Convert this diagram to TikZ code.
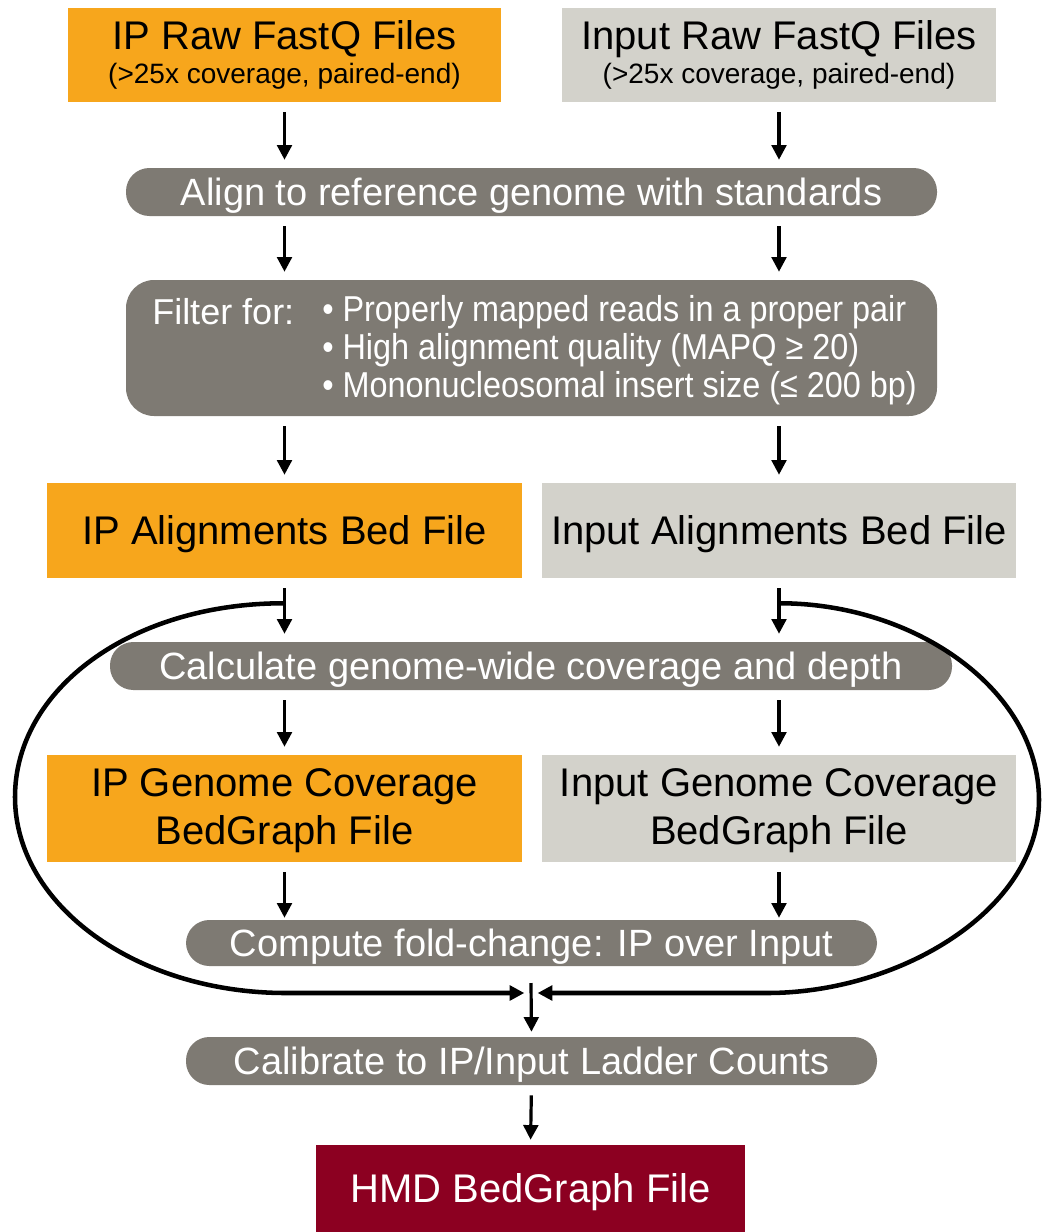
\documentclass[tikz,border=0pt]{standalone}
\usepackage{fontspec}
\setmainfont{Liberation Sans}
\newfontfamily\narrowsans{Liberation Sans}[FakeStretch=0.9]
\usetikzlibrary{arrows.meta,calc}

\definecolor{iporange}{HTML}{F7A61C}
\definecolor{inputgray}{HTML}{D3D2CB}
\definecolor{stepgray}{HTML}{7E7A73}
\definecolor{hmdred}{HTML}{8C0021}

\begin{document}
\begin{tikzpicture}[x=0.75pt,y=-0.75pt,
  filebox/.style={rectangle, inner sep=0pt, text=black, align=center,
    font=\fontsize{30}{36}\selectfont},
  ipfile/.style={filebox, fill=iporange},
  inputfile/.style={filebox, fill=inputgray},
  onecapbig/.style={text height=21.5pt, text depth=0pt},
  stepbar/.style={rectangle, rounded corners=17.5pt, fill=stepgray, text=white,
    inner sep=0pt, font=\fontsize{28.5}{34}\selectfont,
    text height=20.4pt, text depth=0pt},
  whitetext/.style={text=white, inner sep=0pt},
  arr/.style={line width=2.4pt, -{Triangle[length=11pt,width=11pt]},
    shorten <=7.5pt, shorten >=6pt},
  loopline/.style={line width=3.4pt, -{Triangle[length=11pt,width=11pt]}, shorten >=5pt}
]
\useasboundingbox (0,0) rectangle (1042,1232);

% raw reads
\node[ipfile, minimum width=433*0.75pt, minimum height=94*0.75pt,
  font=\fontsize{21}{25.5}\selectfont] (iprawfq) at (284.5,55)
  {{\fontsize{30}{30}\selectfont IP Raw FastQ Files}\\\rule{0pt}{16pt}(>25x coverage, paired-end)};
\node[inputfile, minimum width=434*0.75pt, minimum height=94*0.75pt,
  font=\fontsize{21}{25.5}\selectfont] (inputrawfq) at (779,55)
  {{\fontsize{30}{30}\selectfont Input Raw FastQ Files}\\\rule{0pt}{16pt}(>25x coverage, paired-end)};

% alignment
\node[stepbar, minimum width=811*0.75pt, minimum height=48*0.75pt] (align) at (531.5,192)
  {Align to reference genome with standards};

% filtering
\node[stepbar, rounded corners=21pt, minimum width=811*0.75pt, minimum height=136*0.75pt,
  text height=0pt] (filter) at (531.5,348) {};
\node[whitetext, anchor=west, font=\fontsize{27}{28.5}\selectfont] (filterlbl) at (152,312)
  {Filter for:};
\node[whitetext, anchor=west, align=left, font=\narrowsans\fontsize{27}{28.5}\selectfont]
  (filtercrit) at (322,350)
  {• Properly mapped reads in a proper pair\\
   • High alignment quality (MAPQ ≥ 20)\\
   • Mononucleosomal insert size (≤ 200 bp)};

% alignment bed files
\node[ipfile, onecapbig, minimum width=475*0.75pt, minimum height=95*0.75pt] (ipbed) at (284.5,530.5)
  {IP Alignments Bed File};
\node[inputfile, onecapbig, minimum width=474*0.75pt, minimum height=95*0.75pt] (inputbed) at (779,530.5)
  {Input Alignments Bed File};

% coverage
\node[stepbar, minimum width=842*0.75pt, minimum height=48*0.75pt] (calc) at (531,666)
  {Calculate genome-wide coverage and depth};

\node[ipfile, minimum width=475*0.75pt, minimum height=107*0.75pt] (ipcov) at (284.5,808.5)
  {\rule{0pt}{24pt}IP Genome Coverage\\BedGraph File};
\node[inputfile, minimum width=474*0.75pt, minimum height=107*0.75pt] (inputcov) at (779,808.5)
  {\rule{0pt}{24pt}Input Genome Coverage\\BedGraph File};

% fold change and calibration
\node[stepbar, minimum width=691*0.75pt, minimum height=46*0.75pt] (fold) at (531.5,943)
  {Compute fold-change: IP over Input};
\node[stepbar, minimum width=691*0.75pt, minimum height=48*0.75pt] (calib) at (531.5,1061)
  {Calibrate to IP/Input Ladder Counts};

\node[filebox, onecapbig, fill=hmdred, text=white, minimum width=429*0.75pt, minimum height=87*0.75pt]
  (hmd) at (530.5,1188.5) {HMD BedGraph File};

% straight connectors
\draw[arr] (iprawfq.south) -- (iprawfq.south |- align.north);
\draw[arr] (inputrawfq.south) -- (inputrawfq.south |- align.north);
\draw[arr] (align.south -| iprawfq.south) -- (filter.north -| iprawfq.south);
\draw[arr] (align.south -| inputrawfq.south) -- (filter.north -| inputrawfq.south);
\draw[arr] (filter.south -| ipbed.south) -- (ipbed.north);
\draw[arr] (filter.south -| inputbed.south) -- (inputbed.north);
\draw[arr] (ipbed.south) -- (ipbed.south |- calc.north);
\draw[arr] (inputbed.south) -- (inputbed.south |- calc.north);
\draw[arr] (calc.south -| ipcov.north) -- (ipcov.north);
\draw[arr] (calc.south -| inputcov.north) -- (inputcov.north);
\draw[arr, shorten >=1.5pt] (ipcov.south) -- (ipcov.south |- fold.north);
\draw[arr, shorten >=1.5pt] (inputcov.south) -- (inputcov.south |- fold.north);

% feedback loops around the coverage step
\coordinate (jleft) at ($(ipbed.south)+(0,25)$);
\coordinate (jright) at ($(inputbed.south)+(0,25)$);
\coordinate (merge) at (531,993);
\coordinate (mergetop) at (531,983);

\draw[loopline] (jleft) .. controls (130,603) and (15,690) .. (15,797)
  .. controls (15,905) and (136,993) .. (286,993) -- (merge);
\draw[loopline] (jright) .. controls (915,603) and (1039,690) .. (1039,800)
  .. controls (1039,910) and (900,993) .. (767,993) -- (merge);

\draw[arr, shorten <=0pt, shorten >=3.75pt] (mergetop) -- (calib.north);
\draw[arr, shorten <=7.5pt, shorten >=3.75pt] (calib.south) -- (hmd.north);
\end{tikzpicture}
\end{document}
